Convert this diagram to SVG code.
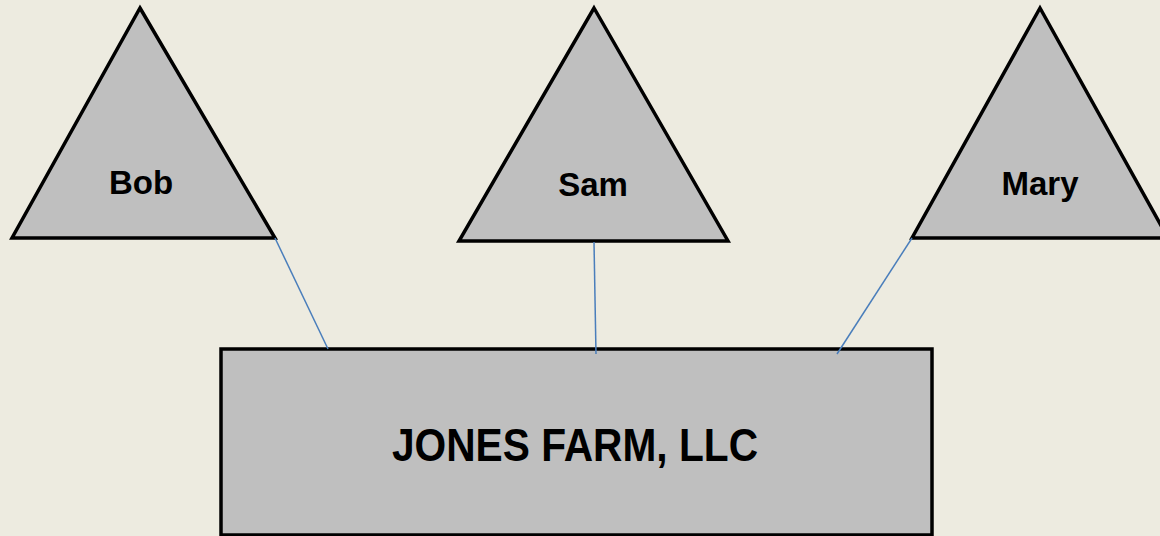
<svg xmlns="http://www.w3.org/2000/svg" width="1160" height="536" viewBox="0 0 1160 536">
<style>
.shape{fill:#bfbfbf;stroke:#000;stroke-width:3.5;stroke-linejoin:miter}
.lbl{font-family:"Liberation Sans",Arial,sans-serif;font-weight:bold;fill:#000;text-anchor:middle}
.conn{stroke:#4a7ebb;stroke-width:1.5;fill:none}
</style>
<rect width="1160" height="536" fill="#edebe0"/>
<g id="bob">
<polygon class="shape" points="140,8 275,238 12,238"/>
<text class="lbl" x="141" y="194" font-size="33">Bob</text>
</g>
<g id="sam">
<polygon class="shape" points="594,8 728,241 459,241"/>
<text class="lbl" x="593" y="196" font-size="33">Sam</text>
</g>
<g id="mary">
<polygon class="shape" points="1040,8 1168,238 912,238"/>
<text class="lbl" x="1040" y="195" font-size="33">Mary</text>
</g>
<g id="jones-farm">
<rect class="shape" x="221" y="349" width="711" height="186"/>
<text class="lbl" x="575" y="461" font-size="47" textLength="366" lengthAdjust="spacingAndGlyphs">JONES FARM, LLC</text>
</g>
<g id="connectors">
<line class="conn" x1="275" y1="238" x2="328" y2="349"/>
<line class="conn" x1="594" y1="242" x2="596" y2="354"/>
<line class="conn" x1="912" y1="238" x2="837" y2="354"/>
</g>
</svg>
